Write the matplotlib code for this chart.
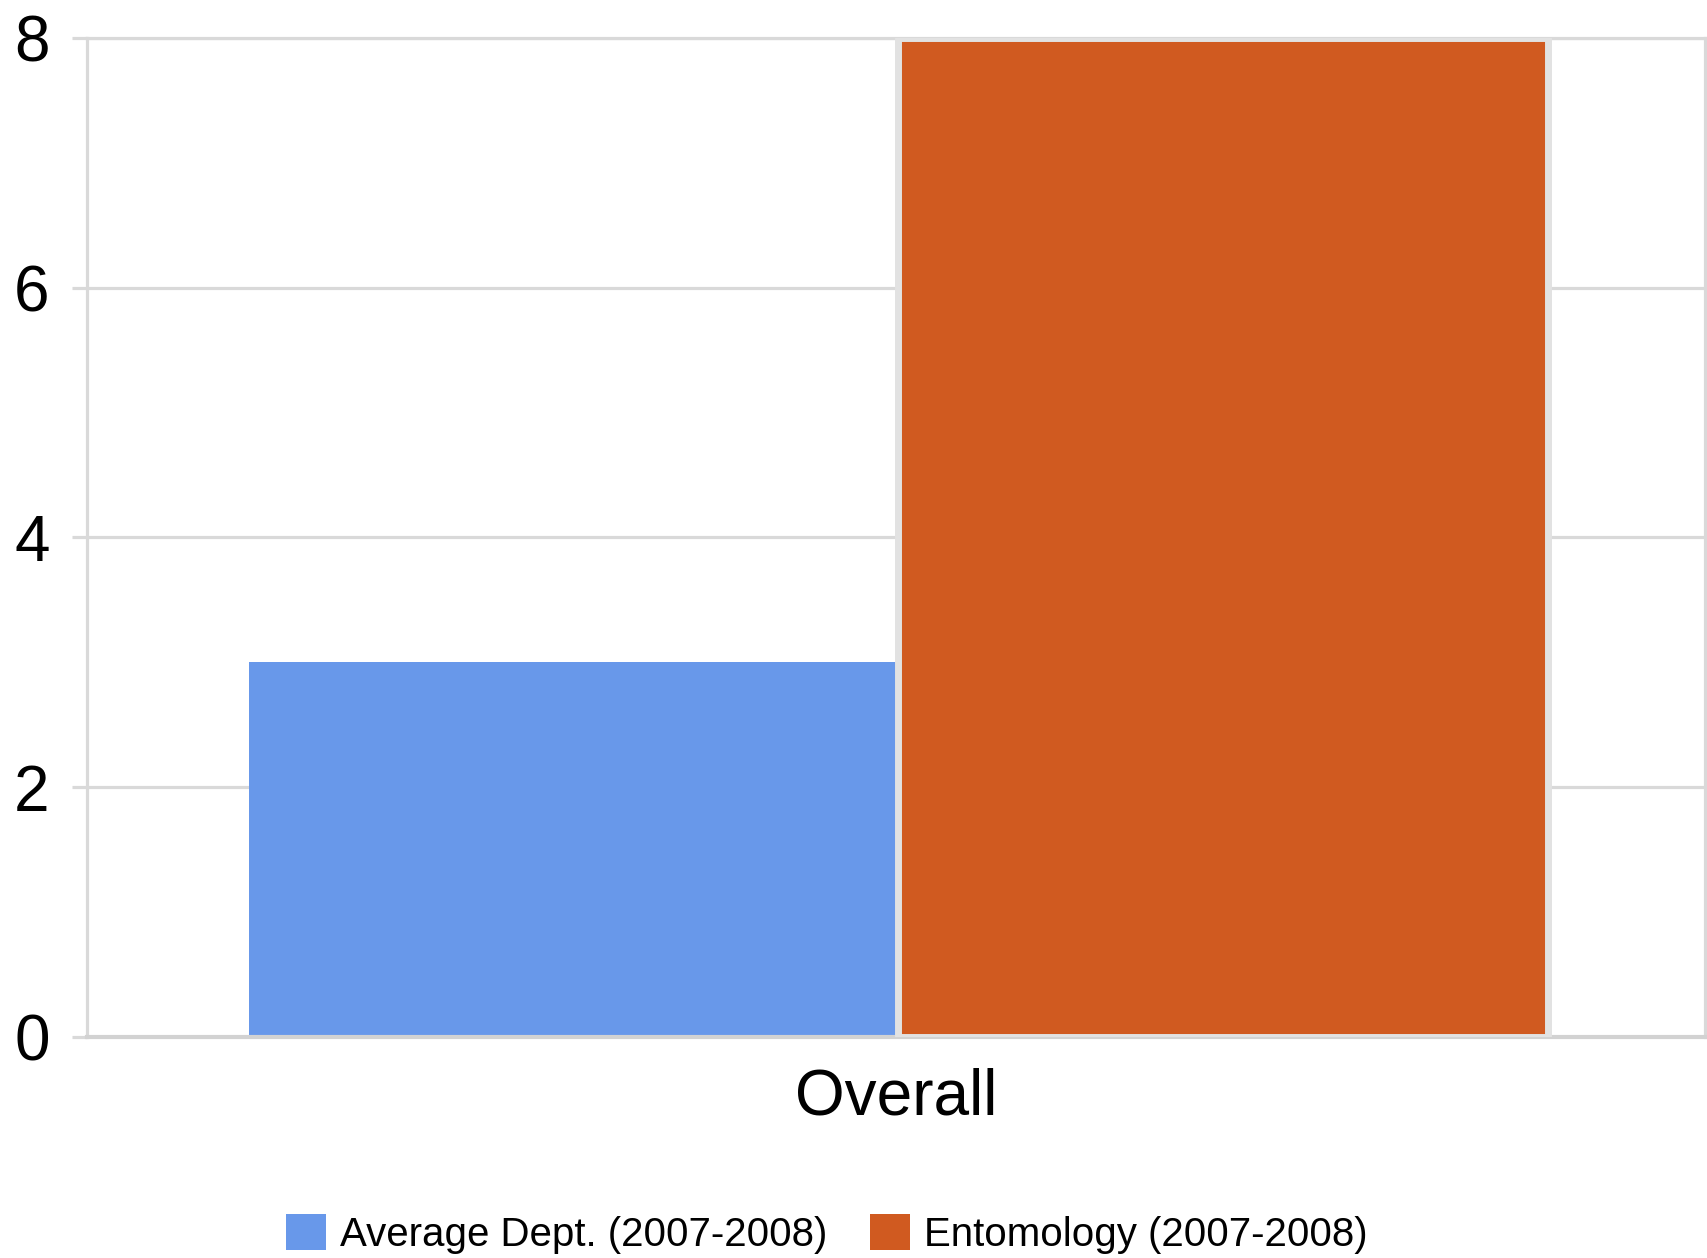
import matplotlib.pyplot as plt
from matplotlib.patches import Patch

plt.rcParams['font.family'] = ['Liberation Sans', 'DejaVu Sans']

categories = ['Overall']
series_names = ['Average Dept. (2007-2008)', 'Entomology (2007-2008)']
series_values = [[3], [8]]
colors = ['#6898EA', '#D05A20']
yticks = [0, 2, 4, 6, 8]

grid_col = '#d9d9d9'

fig = plt.figure(figsize=(17.07, 12.58), dpi=100)
ax = fig.add_axes([0.051, 0.1757, 0.9478, 0.7941])

x = range(len(categories))
w = 0.4
# blue first, orange on top with its light grey border
ax.bar([i - w / 2 for i in x], series_values[0], width=w, color=colors[0],
       linewidth=0, zorder=2)
ax.bar([i + w / 2 + 0.002 for i in x], series_values[1], width=w + 0.002, color=colors[1],
       edgecolor='#e2e2e2', linewidth=5, zorder=3)

ax.set_xlim(-0.5, 0.5)
ax.set_ylim(0, 8)
ax.set_yticks(yticks)
ax.set_yticklabels([str(v) for v in yticks])
ax.set_xticks(list(x))
ax.set_xticklabels(categories)

ax.set_axisbelow(True)
ax.yaxis.grid(True, color=grid_col, linewidth=2.3)
for s in ax.spines.values():
    s.set_color(grid_col)
    s.set_linewidth(2.3)
ax.spines['bottom'].set_color('#d2d2d2')
ax.spines['bottom'].set_linewidth(3)

ax.tick_params(axis='y', labelsize=46, length=11, width=2.3, color=grid_col, pad=16)
ax.tick_params(axis='x', labelsize=46, length=0, pad=22)

handles = [Patch(facecolor=c, edgecolor='none') for c in colors]
fig.legend(handles, series_names, loc='center', bbox_to_anchor=(827 / 1707, 1 - 1234 / 1258),
           ncol=2, frameon=False, fontsize=29, handlelength=1.0, handleheight=1.0,
           handletextpad=0.35, columnspacing=1.05, borderpad=0)

fig.savefig('out.png', dpi=100)
